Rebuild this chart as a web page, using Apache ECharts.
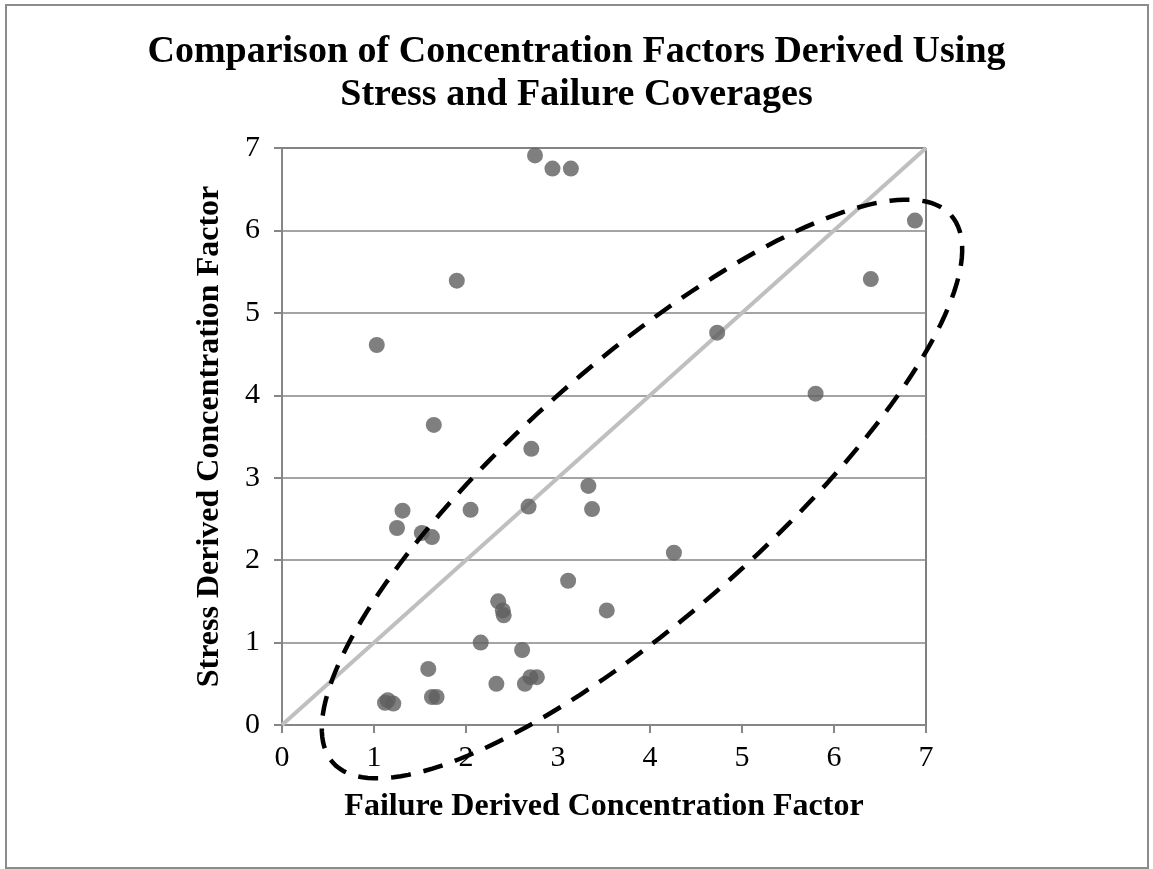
<!DOCTYPE html>
<html>
<head>
<meta charset="utf-8">
<script src="https://cdn.jsdelivr.net/npm/echarts@6/dist/echarts.min.js"></script>
<style>
  html, body { margin: 0; padding: 0; background: #fff; }
  #chart { width: 1153px; height: 869px; }
</style>
</head>
<body>
<div id="chart"></div>
<script>
// failure derived (x) vs stress derived (y) concentration factors
const failureCF = [
  1.03, 1.90, 2.75, 2.94, 3.14, 1.65, 2.71,
  1.31, 1.25, 1.52, 1.63, 2.05, 2.68, 3.33, 3.37, 4.26,
  4.73, 5.80, 6.40, 6.88,
  3.11, 3.53, 2.35, 2.40, 2.41, 2.16, 2.61, 1.59,
  2.33, 2.64, 2.70, 2.77, 1.63, 1.68, 1.12, 1.15, 1.21
];
const stressCF = [
  4.61, 5.39, 6.91, 6.75, 6.75, 3.64, 3.35,
  2.60, 2.39, 2.33, 2.28, 2.61, 2.65, 2.90, 2.62, 2.09,
  4.76, 4.02, 5.41, 6.12,
  1.75, 1.39, 1.50, 1.39, 1.33, 1.00, 0.91, 0.68,
  0.50, 0.50, 0.58, 0.58, 0.34, 0.34, 0.27, 0.30, 0.26
];
// 1:1 reference line
const unityLine = [[0, 0], [7, 7]];
const axisTicks = [0, 1, 2, 3, 4, 5, 6, 7];

// hand-drawn dashed ellipse annotation (data units): centre + two conjugate half-axes
const ellipseCenter = [3.913, 2.863];
const ellipseMajor = [3.360, 3.319];
const ellipseMinor = [0.908, -1.145];

const chart = echarts.init(document.getElementById('chart'));

const serif = '"Liberation Serif", "Times New Roman", serif';
const axisGray = '#868686';

const points = failureCF.map((x, i) => [x, stressCF[i]]);

const option = {
  backgroundColor: '#fff',
  animation: false,
  title: {
    text: 'Comparison of Concentration Factors Derived Using\nStress and Failure Coverages',
    left: 'center',
    top: 26,
    textStyle: {
      fontFamily: serif,
      fontSize: 38,
      fontWeight: 'bold',
      color: '#000',
      lineHeight: 43
    }
  },
  graphic: [
    {
      type: 'rect',
      shape: { x: 6, y: 5, width: 1142, height: 863 },
      style: { fill: 'none', stroke: '#8c8c8c', lineWidth: 2 },
      silent: true
    }
  ],
  grid: {
    left: 282,
    top: 148,
    width: 644,
    height: 577,
    show: true,
    borderColor: '#000',
    borderWidth: 1,
    backgroundColor: 'transparent'
  },
  xAxis: {
    type: 'value',
    min: 0,
    max: 7,
    interval: 1,
    name: 'Failure Derived Concentration Factor',
    nameLocation: 'middle',
    nameGap: 66,
    nameTextStyle: { fontFamily: serif, fontSize: 32, fontWeight: 'bold', color: '#000' },
    axisLine: { show: true, lineStyle: { color: axisGray, width: 2 } },
    axisTick: { show: true, length: 8, lineStyle: { color: axisGray, width: 2 } },
    axisLabel: {
      fontFamily: serif, fontSize: 30, color: '#000', margin: 18,
      formatter: v => axisTicks.includes(v) ? String(v) : ''
    },
    splitLine: { show: false }
  },
  yAxis: {
    type: 'value',
    min: 0,
    max: 7,
    interval: 1,
    name: 'Stress Derived Concentration Factor',
    nameLocation: 'middle',
    nameGap: 56,
    nameTextStyle: { fontFamily: serif, fontSize: 32, fontWeight: 'bold', color: '#000' },
    axisLine: { show: true, lineStyle: { color: axisGray, width: 2 } },
    axisTick: { show: true, length: 8, lineStyle: { color: axisGray, width: 2 } },
    axisLabel: {
      fontFamily: serif, fontSize: 30, color: '#000', margin: 22,
      formatter: v => axisTicks.includes(v) ? String(v) : ''
    },
    splitLine: { show: true, lineStyle: { color: axisGray, width: 1.5 } }
  },
  series: [
    {
      type: 'line',
      data: unityLine,
      symbol: 'none',
      lineStyle: { color: '#bfbfbf', width: 4 },
      z: 2,
      silent: true
    },
    {
      type: 'scatter',
      data: points,
      symbol: 'circle',
      symbolSize: 16,
      itemStyle: { color: '#5f5f5f' },
      z: 3
    },
    {
      type: 'custom',
      data: [ellipseCenter],
      clip: false,
      silent: true,
      z: 4,
      renderItem: (params, api) => {
        const pts = [];
        const n = 180;
        for (let k = 0; k < n; k++) {
          const t = (k / n) * Math.PI * 2;
          const c = Math.cos(t), s = Math.sin(t);
          pts.push(api.coord([
            ellipseCenter[0] + c * ellipseMajor[0] + s * ellipseMinor[0],
            ellipseCenter[1] + c * ellipseMajor[1] + s * ellipseMinor[1]
          ]));
        }
        return {
          type: 'polygon',
          shape: { points: pts },
          style: { fill: 'none', stroke: '#000', lineWidth: 4.5, lineDash: [20, 13] }
        };
      }
    }
  ]
};

chart.setOption(option);
window.addEventListener('resize', () => chart.resize());
</script>
</body>
</html>
